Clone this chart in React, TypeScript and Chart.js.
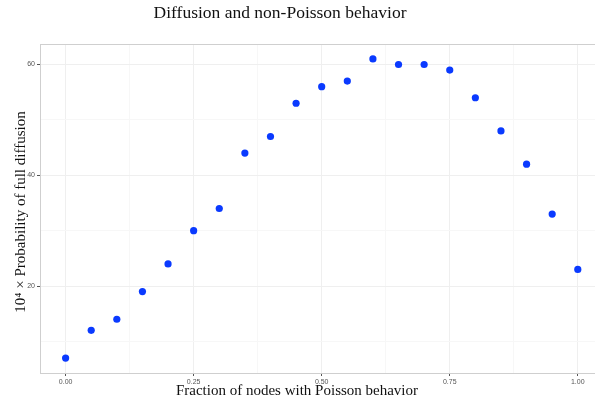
import React, { useEffect, useRef } from 'react';
import { Chart, registerables } from 'chart.js';

Chart.register(...registerables);

const chartTitle = 'Diffusion and non-Poisson behavior';
const xTitle = 'Fraction of nodes with Poisson behavior';
const yTitle = '10\u2074 \u00d7 Probability of full diffusion';

const xValues = [0, 0.05, 0.1, 0.15, 0.2, 0.25, 0.3, 0.35, 0.4, 0.45, 0.5, 0.55, 0.6, 0.65, 0.7, 0.75, 0.8, 0.85, 0.9, 0.95, 1.0];
const yValues = [7, 12, 14, 19, 24, 30, 34, 44, 47, 53, 56, 57, 61, 60, 60, 59, 54, 48, 42, 33, 23];

const xTickLabels = [0, 0.25, 0.5, 0.75, 1];
const yTickLabels = [20, 40, 60];

const isLabel = (list: number[], v: number) => list.some((t) => Math.abs(t - v) < 1e-9);

export default function App() {
  const ref = useRef<HTMLCanvasElement | null>(null);

  useEffect(() => {
    document.body.style.margin = '0';
    const canvas = ref.current;
    if (!canvas) return;

    const textPlugin = {
      id: 'textPlugin',
      beforeDraw(chart: any) {
        const ctx = chart.ctx;
        ctx.save();
        ctx.fillStyle = '#ffffff';
        ctx.fillRect(0, 0, chart.width, chart.height);
        ctx.restore();
      },
      afterDraw(chart: any) {
        const ctx = chart.ctx;
        const a = chart.chartArea;
        ctx.save();
        ctx.strokeStyle = '#cfcfcf';
        ctx.lineWidth = 1;
        ctx.strokeRect(Math.round(a.left) + 0.5, Math.round(a.top) + 0.5, Math.round(a.right - a.left), Math.round(a.bottom - a.top));
        ctx.fillStyle = '#111111';
        ctx.textAlign = 'center';
        ctx.textBaseline = 'alphabetic';
        ctx.font = '17.5px "Liberation Serif"';
        ctx.fillText(chartTitle, 280, 18);
        ctx.font = '15px "Liberation Serif"';
        ctx.fillText(xTitle, 297, 395);
        ctx.translate(25, 212);
        ctx.rotate(-Math.PI / 2);
        ctx.fillText(yTitle, 0, 0);
        ctx.restore();
      },
    };

    const chart = new Chart(canvas, {
      type: 'scatter',
      data: {
        datasets: [
          {
            data: xValues.map((x, i) => ({ x, y: yValues[i] })),
            backgroundColor: '#0a3aff',
            borderColor: '#0a3aff',
            borderWidth: 0,
            pointRadius: 3.6,
            pointHoverRadius: 3.6,
          },
        ],
      },
      options: {
        animation: false,
        responsive: false,
        maintainAspectRatio: false,
        devicePixelRatio: 1,
        layout: { padding: { top: 44, left: 0, right: 0, bottom: 0 } },
        plugins: {
          legend: { display: false },
          tooltip: { enabled: false },
          title: { display: false },
        },
        scales: {
          x: {
            type: 'linear',
            min: -0.05,
            max: 1.05,
            afterFit(scale: any) {
              scale.height = 31;
            },
            border: { display: false },
            grid: {
              color: (c: any) => (c.tick && isLabel(xTickLabels, c.tick.value) ? '#efefef' : '#f7f7f7'),
              tickColor: (c: any) => (c.tick && isLabel(xTickLabels, c.tick.value) ? '#555555' : 'rgba(0,0,0,0)'),
              tickLength: 3,
              lineWidth: 1,
            },
            ticks: {
              stepSize: 0.125,
              includeBounds: false,
              autoSkip: false,
              maxRotation: 0,
              padding: 2,
              color: '#555555',
              font: { family: '"Liberation Sans"', size: 7 },
              callback: (v: any) => (isLabel(xTickLabels, Number(v)) ? Number(v).toFixed(2) : ''),
            },
          },
          y: {
            type: 'linear',
            min: 4.3,
            max: 63.7,
            afterFit(scale: any) {
              scale.width = 40;
            },
            border: { display: false },
            grid: {
              color: (c: any) => (c.tick && isLabel(yTickLabels, c.tick.value) ? '#efefef' : '#f7f7f7'),
              tickColor: (c: any) => (c.tick && isLabel(yTickLabels, c.tick.value) ? '#555555' : 'rgba(0,0,0,0)'),
              tickLength: 3,
              lineWidth: 1,
            },
            ticks: {
              stepSize: 10,
              includeBounds: false,
              autoSkip: false,
              padding: 2,
              color: '#555555',
              font: { family: '"Liberation Sans"', size: 7 },
              callback: (v: any) => (isLabel(yTickLabels, Number(v)) ? String(v) : ''),
            },
          },
        },
      },
      plugins: [textPlugin],
    });

    return () => chart.destroy();
  }, []);

  return (
    <div style={{ width: 595, height: 404, overflow: 'hidden', position: 'relative' }}>
      <canvas ref={ref} width={607} height={404} style={{ width: 607, height: 404, display: 'block' }} />
    </div>
  );
}
